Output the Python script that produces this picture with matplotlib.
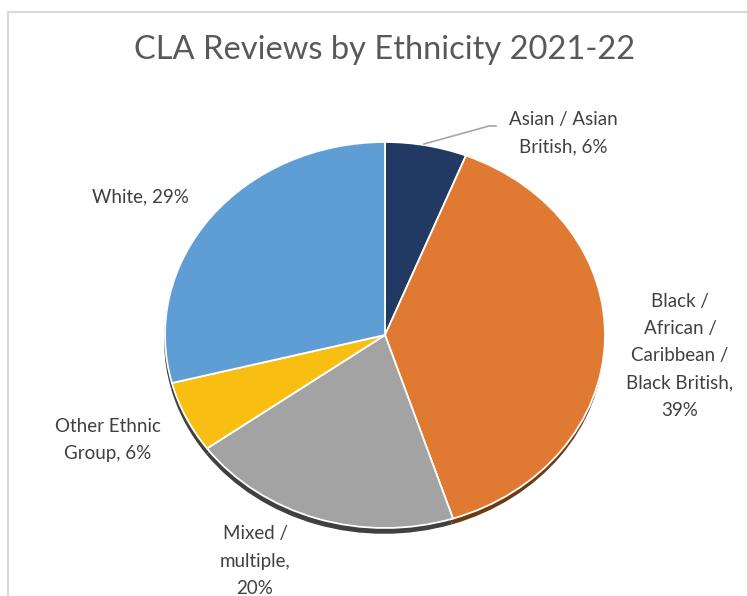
import matplotlib.pyplot as plt
from matplotlib.patches import Rectangle
from matplotlib.lines import Line2D

# data
categories = ['Asian / Asian\nBritish', 'Black /\nAfrican /\nCaribbean /\nBlack British',
              'Mixed /\nmultiple', 'Other Ethnic\nGroup', 'White']
shares = [6, 39, 20, 6, 29]
colors = ['#213963', '#E07932', '#A3A3A3', '#F8BF12', '#5F9DD5']
shadow_colors = ['#101c31', '#6e3a14', '#404040', '#404040', '#404040']

W, H = 747, 596
plt.rcParams['font.family'] = ['Lato', 'DejaVu Sans']
fig = plt.figure(figsize=(W / 100, H / 100), dpi=100)

def fx(px):
    return px / W

def fy(py):
    return 1 - py / H

# chart frame
fig.patches.append(Rectangle((fx(8), fy(700)), fx(900), fy(12) - fy(700),
                             transform=fig.transFigure, fill=False,
                             edgecolor='#D9D9D9', lw=1.5, zorder=0))

# pie as an ellipse (3d look): center (385, 335), rx 220, ry 193
cx, cy, rx, ry = 385, 335, 220, 193
ax = fig.add_axes([fx(cx - rx), fy(cy + ry), fx(2 * rx), fy(cy - ry) - fy(cy + ry)])
# shadow copy, shifted down
ax.pie(shares, colors=shadow_colors, startangle=90, counterclock=False,
       radius=1, center=(-0.004, -0.03), wedgeprops=dict(lw=0))
ax.pie(shares, colors=colors, startangle=90, counterclock=False, radius=1,
       wedgeprops=dict(edgecolor='white', lw=1.3))
ax.set_aspect('auto')
ax.set_xlim(-1, 1)
ax.set_ylim(-1, 1)
ax.axis('off')

fig.text(fx(385), fy(50), 'CLA Reviews by Ethnicity 2021-22', ha='center', va='center',
         fontsize=23.5, color='#595959')

# data labels
label_pos = [(563, 133), (680, 356), (255, 561), (108, 440), (140, 197)]
pct_newline = [False, True, True, False, False]
for name, val, (lx, ly), nl in zip(categories, shares, label_pos, pct_newline):
    sep = ',\n' if nl else ', '
    fig.text(fx(lx), fy(ly), f'{name}{sep}{val}%', ha='center', va='center',
             fontsize=13.5, color='#404040', linespacing=1.72)

# leader line for Asian label
fig.lines.append(Line2D([fx(424), fx(489), fx(496)], [fy(144), fy(126), fy(126)],
                        transform=fig.transFigure, color='#A6A6A6', lw=1.2))

fig.savefig('out.png', dpi=100)
